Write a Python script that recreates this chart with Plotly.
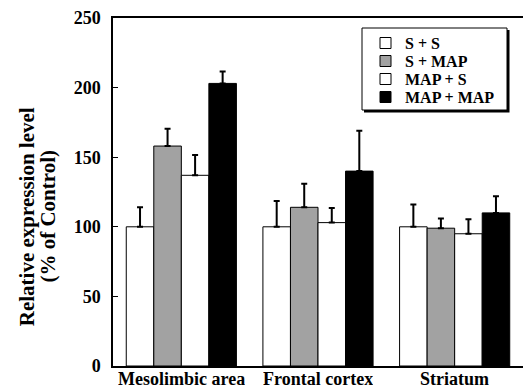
import plotly.graph_objects as go

regions = ["Mesolimbic area", "Frontal cortex", "Striatum"]
groups = ["S + S", "S + MAP", "MAP + S", "MAP + MAP"]
means = {
    "S + S": [100, 100, 100],
    "S + MAP": [158, 114, 99],
    "MAP + S": [137, 103, 95],
    "MAP + MAP": [203, 140, 110],
}
sem = {
    "S + S": [14, 18.5, 16],
    "S + MAP": [12.5, 17, 7],
    "MAP + S": [14.5, 10.5, 10.5],
    "MAP + MAP": [8.5, 29, 12],
}
fills = {"S + S": "white", "S + MAP": "#a2a2a2", "MAP + S": "white", "MAP + MAP": "black"}

serif = "Liberation Serif"
W, H = 523, 390
L, R, T, B = 113, 0, 18, 24
plot_w, plot_h = W - L - R, H - T - B


def px(x):
    return (x - L) / plot_w


def py(y):
    return (H - B - y) / plot_h


fig = go.Figure()
for g in groups:
    fig.add_trace(go.Bar(
        name=g,
        x=regions,
        y=means[g],
        marker=dict(color=fills[g], line=dict(color="black", width=1)),
        error_y=dict(type="data", symmetric=False, array=sem[g],
                     arrayminus=[0] * len(regions),
                     color="black", thickness=2, width=3),
        showlegend=False,
    ))

# Key box with drop shadow, drawn in paper space
box_top, box_bottom = 28, 110
shapes = [
    dict(type="rect", xref="paper", yref="paper",
         x0=px(364), x1=px(509.5), y0=py(box_top + 2), y1=py(box_bottom + 2.5),
         fillcolor="black", line=dict(width=0), layer="above"),
    dict(type="rect", xref="paper", yref="paper",
         x0=px(362), x1=px(507), y0=py(box_top), y1=py(box_bottom),
         fillcolor="white", line=dict(color="black", width=1), layer="above"),
]
annotations = []
row_y = [43, 61, 79, 97]
for g, yc in zip(groups, row_y):
    shapes.append(dict(type="rect", xref="paper", yref="paper",
                       x0=px(380), x1=px(391), y0=py(yc - 5.5), y1=py(yc + 5.5),
                       fillcolor=fills[g], line=dict(color="black", width=1),
                       layer="above"))
    annotations.append(dict(text=g, xref="paper", yref="paper",
                            x=px(404), y=py(yc), xanchor="left", yanchor="middle",
                            height=16, valign="middle", borderpad=0,
                            showarrow=False,
                            font=dict(family=serif, size=16, weight="bold")))

# Category names under each group of bars
for r in regions:
    annotations.append(dict(text=r, xref="x", yref="paper",
                            x=r, y=py(389), xanchor="center", yanchor="bottom",
                            height=18, valign="middle", borderpad=0,
                            showarrow=False,
                            font=dict(family=serif, size=18, weight="bold")))

annotations += [
    dict(text="Relative expression level", textangle=-90,
         xref="paper", yref="paper", x=-0.21, y=0.43,
         xanchor="center", yanchor="middle", showarrow=False,
         font=dict(family=serif, size=21, weight="bold")),
    dict(text="(% of Control)", textangle=-90,
         xref="paper", yref="paper", x=-0.158, y=0.43,
         xanchor="center", yanchor="middle", showarrow=False,
         font=dict(family=serif, size=21, weight="bold")),
]

fig.update_layout(
    width=W, height=H,
    margin=dict(l=L, r=R, t=T, b=B),
    paper_bgcolor="white", plot_bgcolor="white",
    barmode="group", bargap=0.194, bargroupgap=0,
    font=dict(family=serif, color="black", size=18, weight="bold"),
    showlegend=False,
    xaxis=dict(range=[-0.5, 2.5], showline=True, linecolor="black", linewidth=1.5,
               mirror=True, ticks="", showgrid=False, automargin=False,
               showticklabels=False),
    yaxis=dict(range=[0, 250], tickvals=[0, 50, 100, 150, 200, 250],
               showline=True, linecolor="black", linewidth=1.5,
               ticks="inside", ticklen=5, tickwidth=1, tickcolor="black",
               ticklabelstandoff=7, automargin=False,
               showgrid=False, zeroline=False,
               tickfont=dict(family=serif, size=18, weight="bold")),
    shapes=shapes,
    annotations=annotations,
)

fig.write_html("out.html")
